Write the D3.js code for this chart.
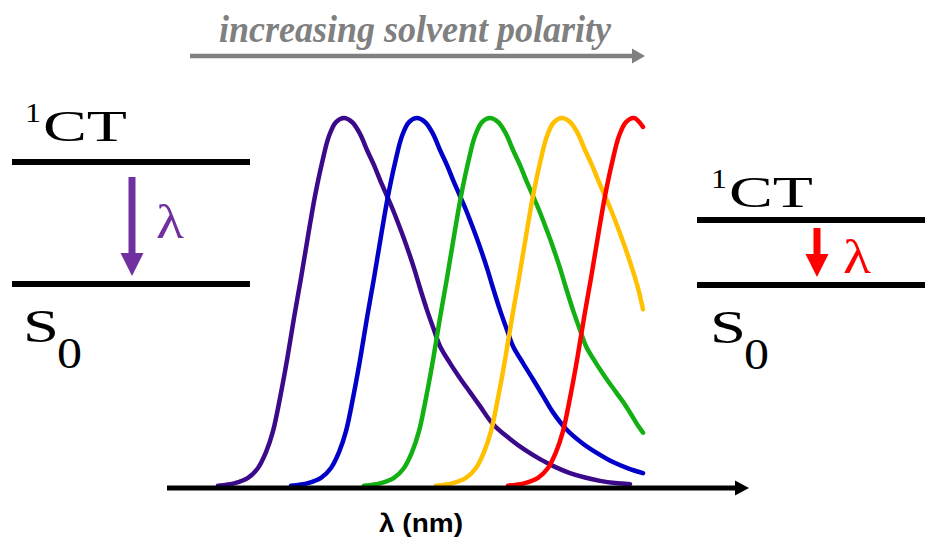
<!DOCTYPE html>
<html>
<head>
<meta charset="utf-8">
<script src="https://cdn.jsdelivr.net/npm/d3@7"></script>
<style>
  body { margin: 0; background: #fff; }
  svg { display: block; }
</style>
</head>
<body>
<div id="graph"></div>
<script>
const width = 925;
const height = 539;

// emission spectra: wavelength (nm) and normalised intensity
const purpleWl = [405.5, 414, 420.5, 425.5, 429.5, 433, 436.5, 440, 443.5, 447, 450.5, 454, 457.5, 461, 464.5, 468.5, 472.5, 476.5, 480, 483.5, 486.5, 490, 493, 496.5, 500, 503.5, 506.5, 510, 513.5, 516.5, 521.5, 526.5, 531.5, 536.5, 543, 551.5, 559, 566.5, 574, 581.5, 589, 596.5, 604, 611.5];
const purpleI = [0.001, 0.008, 0.022, 0.049, 0.092, 0.149, 0.239, 0.342, 0.457, 0.565, 0.679, 0.788, 0.878, 0.951, 0.989, 1.0, 0.989, 0.957, 0.913, 0.872, 0.832, 0.788, 0.75, 0.701, 0.649, 0.592, 0.538, 0.478, 0.424, 0.38, 0.334, 0.293, 0.255, 0.217, 0.168, 0.128, 0.098, 0.073, 0.052, 0.035, 0.023, 0.014, 0.008, 0.005];

const blueWl = [442, 450.5, 457, 462, 466, 469.5, 473, 476.5, 480, 483.5, 487, 490.5, 494, 497.5, 501, 505, 509, 513, 516.5, 520, 523, 526.5, 529.5, 533, 536.5, 540, 543, 546.5, 550, 553, 558, 563, 568, 573, 579.5, 588, 595.5, 603, 610.5, 618];
const blueI = [0.001, 0.008, 0.022, 0.049, 0.092, 0.149, 0.239, 0.342, 0.457, 0.565, 0.679, 0.788, 0.878, 0.951, 0.989, 1.0, 0.989, 0.957, 0.913, 0.872, 0.832, 0.788, 0.75, 0.701, 0.649, 0.592, 0.538, 0.478, 0.424, 0.38, 0.334, 0.29, 0.245, 0.2, 0.155, 0.115, 0.088, 0.065, 0.048, 0.035];

const greenWl = [478.5, 487, 493.5, 498.5, 502.5, 506, 509.5, 513, 516.5, 520, 523.5, 527, 530.5, 534, 537.5, 541.5, 545.5, 549.5, 553, 556.5, 559.5, 563, 566, 569.5, 573, 576.5, 579.5, 583, 586.5, 589.5, 594.5, 599.5, 604.5, 609.5, 616, 618];
const greenI = [0.001, 0.008, 0.022, 0.049, 0.092, 0.149, 0.239, 0.342, 0.457, 0.565, 0.679, 0.788, 0.878, 0.951, 0.989, 1.0, 0.989, 0.957, 0.913, 0.872, 0.832, 0.788, 0.75, 0.701, 0.649, 0.592, 0.538, 0.478, 0.424, 0.38, 0.334, 0.293, 0.255, 0.217, 0.16, 0.145];

const yellowWl = [514.5, 523, 529.5, 534.5, 538.5, 542, 545.5, 549, 552.5, 556, 559.5, 563, 566.5, 570, 573.5, 577.5, 581.5, 585.5, 589, 592.5, 595.5, 599, 602, 605.5, 609, 612.5, 615.5, 618];
const yellowI = [0.001, 0.008, 0.022, 0.049, 0.092, 0.149, 0.239, 0.342, 0.457, 0.565, 0.679, 0.788, 0.878, 0.951, 0.989, 1.0, 0.989, 0.957, 0.913, 0.872, 0.832, 0.788, 0.75, 0.701, 0.649, 0.592, 0.538, 0.48];

const redWl = [550.5, 559, 565.5, 570.5, 574.5, 578, 581.5, 585, 588.5, 592, 595.5, 599, 602.5, 606, 609.5, 613.5, 618];
const redI = [0.001, 0.008, 0.022, 0.049, 0.092, 0.149, 0.239, 0.342, 0.457, 0.565, 0.679, 0.788, 0.878, 0.951, 0.989, 1.0, 0.976];

const seriesColors = ["#3b0a8a", "#0000c8", "#12b012", "#ffc000", "#ff0000"];

// text labels
const titleText = "increasing solvent polarity";
const axisLabel = "λ (nm)";

const series = [
  { wl: purpleWl, i: purpleI },
  { wl: blueWl, i: blueI },
  { wl: greenWl, i: greenI },
  { wl: yellowWl, i: yellowI },
  { wl: redWl, i: redI },
];

const svg = d3
  .select("#graph")
  .append("svg")
  .attr("width", width)
  .attr("height", height);

const x = d3.scaleLinear().domain([380, 671]).range([167, 749]);
const y = d3.scaleLinear().domain([0, 1]).range([486, 118]);

const serif = "'Liberation Serif', 'Times New Roman', serif";

// Helpers for thick arrows
function arrowRight(g, x0, x1, yy, shaft, headW, headL, color) {
  g.append("line")
    .attr("x1", x0).attr("x2", x1 - headL + 1)
    .attr("y1", yy).attr("y2", yy)
    .attr("stroke", color).attr("stroke-width", shaft);
  g.append("path")
    .attr("d", `M${x1 - headL},${yy - headW / 2}L${x1},${yy}L${x1 - headL},${yy + headW / 2}Z`)
    .attr("fill", color);
}
function arrowDown(g, xx, y0, y1, shaft, headW, headL, color) {
  g.append("line")
    .attr("x1", xx).attr("x2", xx)
    .attr("y1", y0).attr("y2", y1 - headL + 1)
    .attr("stroke", color).attr("stroke-width", shaft);
  g.append("path")
    .attr("d", `M${xx - headW / 2},${y1 - headL}L${xx},${y1}L${xx + headW / 2},${y1 - headL}Z`)
    .attr("fill", color);
}
// text stretched to a given width
function label(g, str, xx, yy, size, len, color) {
  return g.append("text")
    .attr("x", xx).attr("y", yy)
    .attr("font-family", serif)
    .attr("font-size", size)
    .attr("fill", color || "#000")
    .attr("textLength", len)
    .attr("lengthAdjust", "spacingAndGlyphs")
    .text(str);
}

// Title arrow
label(svg, titleText, 219, 42, 37, 392, "#808080")
  .attr("font-style", "italic")
  .attr("font-weight", "bold");
arrowRight(svg, 190, 645, 56, 4.5, 15, 13, "#808080");

// Spectra
const line = d3.line()
  .x((d) => x(d[0]))
  .y((d) => y(d[1]))
  .curve(d3.curveCatmullRom.alpha(0.5));

svg.append("g")
  .selectAll("path")
  .data(series)
  .join("path")
  .attr("d", (s) => line(s.wl.map((w, k) => [w, s.i[k]])))
  .attr("fill", "none")
  .attr("stroke", (s, k) => seriesColors[k])
  .attr("stroke-width", 4.5)
  .attr("stroke-linejoin", "round")
  .attr("stroke-linecap", "round");

// Wavelength axis with arrow
const axis = svg.append("g")
  .attr("transform", `translate(0, 488)`)
  .call(d3.axisBottom(x).tickValues([]).tickSizeOuter(0));
axis.select(".domain")
  .attr("stroke", "#000")
  .attr("stroke-width", 5)
  .attr("d", `M${x.range()[0]},0H${x.range()[1] - 13}`);
axis.append("path")
  .attr("d", `M${x.range()[1] - 14},-7.5L${x.range()[1]},0L${x.range()[1] - 14},7.5Z`)
  .attr("fill", "#000");

svg.append("text")
  .attr("x", 379).attr("y", 532)
  .attr("font-family", "'Liberation Sans', Arial, sans-serif")
  .attr("font-weight", "bold")
  .attr("font-size", 26)
  .attr("fill", "#000")
  .attr("textLength", 84)
  .attr("lengthAdjust", "spacingAndGlyphs")
  .text(axisLabel);

// Energy level diagrams
function levels(g, x0, x1, yTop, yBot, ctX, ctY, sX, sY, arrowX, arrowY0, arrowColor, lamX, lamY) {
  g.append("line").attr("x1", x0).attr("x2", x1).attr("y1", yTop).attr("y2", yTop)
    .attr("stroke", "#000").attr("stroke-width", 6);
  g.append("line").attr("x1", x0).attr("x2", x1).attr("y1", yBot).attr("y2", yBot)
    .attr("stroke", "#000").attr("stroke-width", 6);

  label(g, "1", ctX, ctY - 19, 28, 16);
  label(g, "CT", ctX + 18, ctY, 45, 84);

  label(g, "S", sX, sY, 47, 36);
  label(g, "0", sX + 34, sY + 26, 44, 25);

  arrowDown(g, arrowX, arrowY0, yBot - 8, 7, 23, 23, arrowColor);
  label(g, "λ", lamX, lamY, 48, 28, arrowColor);
}

levels(svg.append("g"), 12, 250, 162, 284, 25, 141, 23, 342, 132, 177, "#7030a0", 156, 238);
levels(svg.append("g"), 697, 925, 220, 285, 711, 207, 710, 343, 817, 228, "#ff0000", 843, 273);
</script>
</body>
</html>
